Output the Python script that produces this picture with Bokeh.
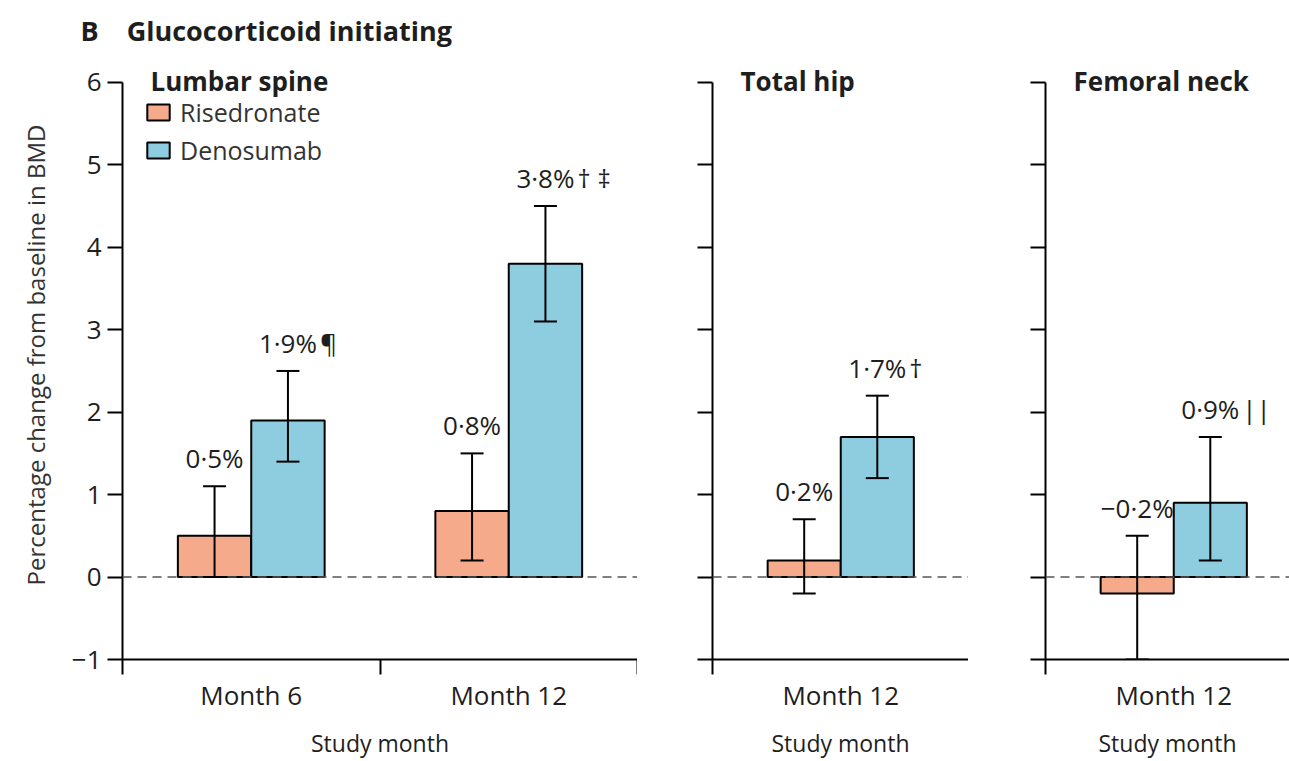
from bokeh.plotting import figure
from bokeh.models import (Range1d, FixedTicker, Span, Whisker, TeeHead, ColumnDataSource,
                          Label, Legend, LegendItem)
from bokeh.layouts import row
from bokeh.embed import file_html
from bokeh.resources import INLINE
from bokeh.core.properties import value

# ---------------- data ----------------
title_letter = "B"
title_text = "Glucocorticoid initiating"
series_names = ["Risedronate", "Denosumab"]
y_ticks = [-1, 0, 1, 2, 3, 4, 5, 6]
x_label = "Study month"
y_label = "Percentage change from baseline in BMD"

panel_titles = ["Lumbar spine", "Total hip", "Femoral neck"]
panel_categories = [["Month 6", "Month 12"], ["Month 12"], ["Month 12"]]

risedronate_mean = [[0.5, 0.8], [0.2], [-0.2]]
risedronate_lower = [[0.0, 0.2], [-0.2], [-1.0]]
risedronate_upper = [[1.1, 1.5], [0.7], [0.5]]
risedronate_labels = [["0·5%", "0·8%"], ["0·2%"], ["−0·2%"]]
risedronate_marks = [["", ""], [""], [""]]

denosumab_mean = [[1.9, 3.8], [1.7], [0.9]]
denosumab_lower = [[1.4, 3.1], [1.2], [0.2]]
denosumab_upper = [[2.5, 4.5], [2.2], [1.7]]
denosumab_labels = [["1·9%", "3·8%"], ["1·7%"], ["0·9%"]]
denosumab_marks = [[" ¶", "† ‡"], ["†"], [" ||"]]

# ---------------- style / layout ----------------
FONT = "Open Sans"
RIS_COLOR = "#F5AA8C"
DEN_COLOR = "#8ECDE0"
TXT = "#1e1e1e"
BAR_W = 0.285
CAT_PX = 256.5
UNIT_PX = 579 / 7.0          # pixels per 1 % on the y axis
FIG_H = 761
TOP_BORDER = 50              # space kept for the figure heading
AXIS_Y = 661                 # page y of the x axis
TICK6_Y = 82                 # page y of the "6" tick
frame_widths = [515, 256, 244]
left_borders = [122, 75, 77]
Y_END = 6 + (TICK6_Y - TOP_BORDER) / UNIT_PX


def make_panel(i):
    cats = panel_categories[i]
    n = len(cats)
    fw = frame_widths[i]
    x_end = min(n, fw / CAT_PX)
    p = figure(width=left_borders[i] + fw, height=FIG_H,
               x_range=Range1d(0, x_end), y_range=Range1d(-1, Y_END),
               output_backend="svg", toolbar_location=None,
               min_border_left=left_borders[i], min_border_right=0,
               min_border_top=TOP_BORDER, min_border_bottom=FIG_H - AXIS_Y)
    p.outline_line_color = None
    p.grid.visible = False
    p.background_fill_color = "white"

    centers = [k + 0.5 for k in range(n)]
    src_r = ColumnDataSource(dict(
        x=[c - BAR_W / 2 for c in centers], top=risedronate_mean[i],
        lower=risedronate_lower[i], upper=risedronate_upper[i],
        label=risedronate_labels[i], mark=risedronate_marks[i]))
    src_d = ColumnDataSource(dict(
        x=[c + BAR_W / 2 for c in centers], top=denosumab_mean[i],
        lower=denosumab_lower[i], upper=denosumab_upper[i],
        label=denosumab_labels[i], mark=denosumab_marks[i]))

    p.add_layout(Span(location=0, dimension="width", line_color="#555555",
                      line_width=1.6, line_dash="9 6"))

    r1 = p.vbar(x="x", top="top", bottom=0, width=BAR_W, source=src_r,
                fill_color=RIS_COLOR, line_color="black", line_width=2)
    r2 = p.vbar(x="x", top="top", bottom=0, width=BAR_W, source=src_d,
                fill_color=DEN_COLOR, line_color="black", line_width=2)

    for src in (src_r, src_d):
        w = Whisker(source=src, base="x", upper="upper", lower="lower",
                    dimension="height", line_color="black", line_width=2,
                    level="annotation",
                    upper_head=TeeHead(size=23, line_width=2, line_color="black"),
                    lower_head=TeeHead(size=23, line_width=2, line_color="black"))
        p.add_layout(w)
        p.text(x="x", y="upper", text="label", source=src, text_align="center",
               text_baseline="alphabetic", y_offset=-28, text_font=value(FONT),
               text_font_size="26px", text_color=TXT)
        p.text(x="x", y="upper", text="mark", source=src, text_align="left",
               text_baseline="alphabetic", x_offset=32, y_offset=-28,
               text_font=value(FONT), text_font_size="26px", text_color=TXT)

    # x axis: labels at centres, ticks at category boundaries
    xa = p.xaxis[0]
    xa.ticker = FixedTicker(ticks=centers, minor_ticks=list(range(n + 1)))
    xa.major_label_overrides = {c: cat for c, cat in zip(centers, cats)}
    xa.major_tick_line_color = None
    xa.major_tick_out = 15
    xa.major_tick_in = 0
    xa.minor_tick_line_color = "black"
    xa.minor_tick_line_width = 2
    xa.minor_tick_out = 15
    xa.minor_tick_in = 0
    xa.axis_line_width = 2
    xa.axis_line_color = "black"
    xa.major_label_text_font = FONT
    xa.major_label_text_font_size = "26px"
    xa.major_label_text_color = TXT
    xa.major_label_standoff = 2
    xa.axis_label = x_label
    xa.axis_label_text_font = FONT
    xa.axis_label_text_font_size = "23px"
    xa.axis_label_text_font_style = "normal"
    xa.axis_label_text_color = TXT
    xa.axis_label_standoff = 11

    ya = p.yaxis[0]
    ya.ticker = FixedTicker(ticks=y_ticks)
    ya.bounds = (-1, 6)
    ya.major_tick_out = 15
    ya.major_tick_in = 0
    ya.major_tick_line_width = 2
    ya.minor_tick_line_color = None
    ya.axis_line_width = 2
    ya.axis_line_color = "black"
    ya.major_label_text_font = FONT
    ya.major_label_text_font_size = "26px"
    ya.major_label_text_color = TXT
    ya.major_label_standoff = 6
    ya.major_label_overrides = {t: ("−" + str(abs(t)) if t < 0 else str(t)) for t in y_ticks}
    if i == 0:
        ya.axis_label = y_label
        ya.axis_label_text_font = FONT
        ya.axis_label_text_font_size = "24px"
        ya.axis_label_text_font_style = "normal"
        ya.axis_label_text_color = "#333333"
        ya.axis_label_standoff = 17
    else:
        ya.major_label_text_color = None

    p.add_layout(Label(x=28, y=AXIS_Y - TICK6_Y, x_units="screen", y_units="screen",
                       text=panel_titles[i], text_font=FONT, text_font_size="26px",
                       text_font_style="bold", text_color=TXT, text_baseline="middle"))

    if i == 0:
        p.title.text = title_letter + "\u00a0\u00a0\u00a0\u00a0" + title_text
        p.title.align = "left"
        p.title.offset = -42
        p.title.standoff = 4
        p.title.text_font = FONT
        p.title.text_font_size = "27px"
        p.title.text_font_style = "bold"
        p.title.text_color = TXT
        legend = Legend(items=[LegendItem(label=series_names[0], renderers=[r1]),
                               LegendItem(label=series_names[1], renderers=[r2])],
                        location=(22, 492), border_line_color=None,
                        background_fill_alpha=0, padding=0, margin=0, spacing=4,
                        glyph_width=28, glyph_height=20, label_standoff=8,
                        label_text_font=FONT, label_text_font_size="25px",
                        label_text_color="#333333")
        p.add_layout(legend)
    return p


panels = [make_panel(i) for i in range(3)]
layout = row(*panels)
open("out.html", "w").write(file_html(layout, INLINE))
